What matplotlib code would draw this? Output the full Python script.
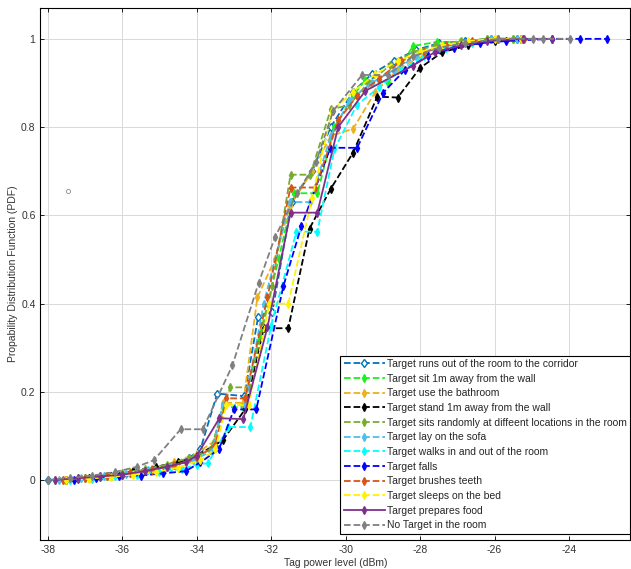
#!/usr/bin/env python3
"""Tag power level CDFs for the different activity scenarios."""

from __future__ import annotations

import matplotlib

matplotlib.use("Agg")

import matplotlib.pyplot as plt

LABELS = [
    "Target runs out of the room to the corridor",
    "Target sit 1m away from the wall",
    "Target use the bathroom",
    "Target stand 1m away from the wall",
    "Target sits randomly at diffeent locations in the room",
    "Target lay on the sofa",
    "Target walks in and out of the room",
    "Target falls",
    "Target brushes teeth",
    "Target sleeps on the bed",
    "Target prepares food",
    "No Target in the room",
]

runs_x = [-38.0, -37.2, -36.6, -36.0, -35.4, -34.8, -34.2, -33.9, -33.45, -32.72, -32.35, -31.97, -31.45,
          -30.9, -30.4, -29.8, -29.3, -28.7, -28.1, -27.5, -26.8, -26.1, -25.4]
runs_y = [0.0, 0.002, 0.006, 0.012, 0.02, 0.03, 0.05, 0.07, 0.196, 0.19, 0.37, 0.38, 0.63,
          0.70, 0.80, 0.88, 0.92, 0.95, 0.975, 0.99, 0.995, 1.0, 1.0]

sit_x = [-37.5, -37.0, -36.4, -35.8, -35.2, -34.6, -34.1, -33.6, -33.3, -32.75, -32.3, -31.8, -31.4,
         -30.76, -30.3, -29.8, -29.47, -28.86, -28.18, -27.54, -26.92, -26.2, -25.5]
sit_y = [0.0, 0.005, 0.01, 0.016, 0.025, 0.035, 0.05, 0.07, 0.165, 0.165, 0.33, 0.5, 0.65,
         0.65, 0.80, 0.87, 0.907, 0.90, 0.984, 0.993, 0.993, 1.0, 1.0]

bath_x = [-37.6, -37.0, -36.4, -35.8, -35.2, -34.6, -34.0, -33.5, -33.3, -32.75, -32.37, -31.9, -31.5,
          -30.9, -30.4, -29.8, -29.2, -28.6, -28.0, -27.4, -26.7, -26.0, -25.3]
bath_y = [0.0, 0.004, 0.01, 0.018, 0.026, 0.04, 0.06, 0.09, 0.175, 0.175, 0.414, 0.5, 0.62,
          0.70, 0.78, 0.796, 0.88, 0.93, 0.96, 0.98, 0.99, 1.0, 1.0]

stand_x = [-37.5, -36.9, -36.3, -35.7, -35.1, -34.5, -34.0, -33.3, -32.7, -32.2, -31.54, -30.97,
           -30.4, -29.8, -29.15, -28.6, -28.0, -27.4, -26.7, -26.0, -25.3]
stand_y = [0.0, 0.005, 0.01, 0.02, 0.03, 0.04, 0.055, 0.09, 0.16, 0.344, 0.344, 0.57,
           0.66, 0.742, 0.869, 0.867, 0.934, 0.97, 0.985, 0.995, 1.0]

randomly_x = [-37.8, -37.2, -36.6, -36.0, -35.4, -34.8, -34.2, -33.63, -33.1, -32.6, -31.97, -31.48,
              -30.95, -30.4, -29.9, -29.4, -28.8, -28.2, -27.6, -26.9, -26.2, -25.5]
randomly_y = [0.0, 0.004, 0.01, 0.016, 0.024, 0.035, 0.05, 0.068, 0.21, 0.21, 0.44, 0.692,
              0.692, 0.84, 0.85, 0.90, 0.94, 0.97, 0.985, 0.995, 1.0, 1.0]

sofa_x = [-37.7, -37.1, -36.5, -35.9, -35.3, -34.7, -34.1, -33.6, -33.3, -32.7, -32.2, -31.5,
          -30.95, -30.4, -29.9, -29.3, -28.7, -28.1, -27.5, -26.8, -26.1, -25.4]
sofa_y = [0.0, 0.004, 0.008, 0.014, 0.022, 0.03, 0.045, 0.065, 0.17, 0.17, 0.40, 0.63,
          0.63, 0.78, 0.86, 0.90, 0.93, 0.96, 0.98, 0.99, 1.0, 1.0]

walks_x = [-37.4, -36.8, -36.2, -35.6, -35.0, -34.4, -34.0, -33.7, -33.15, -32.56, -32.0, -31.32,
           -30.76, -30.3, -29.7, -29.1, -28.5, -27.9, -27.3, -26.6, -25.9, -25.2]
walks_y = [0.0, 0.003, 0.008, 0.012, 0.018, 0.025, 0.035, 0.038, 0.12, 0.12, 0.35, 0.563,
           0.563, 0.75, 0.85, 0.89, 0.93, 0.96, 0.98, 0.99, 1.0, 1.0]

falls_x = [-37.3, -36.7, -36.1, -35.5, -34.9, -34.3, -33.9, -33.4, -33.0, -32.4, -31.67, -31.19,
           -30.41, -29.69, -28.99, -28.4, -27.8, -27.1, -26.4, -25.7, -24.46, -23.7, -22.98]
falls_y = [0.0, 0.005, 0.01, 0.01, 0.015, 0.02, 0.04, 0.07, 0.16, 0.16, 0.44, 0.575,
           0.753, 0.753, 0.878, 0.93, 0.96, 0.98, 0.99, 0.995, 1.0, 1.0, 1.0]

teeth_x = [-37.6, -37.0, -36.4, -35.8, -35.2, -34.6, -34.0, -33.5, -33.2, -32.7, -32.1, -31.48,
           -30.81, -30.2, -29.7, -29.1, -28.5, -27.9, -27.3, -26.6, -25.9, -25.2]
teeth_y = [0.0, 0.004, 0.009, 0.015, 0.023, 0.033, 0.05, 0.08, 0.185, 0.185, 0.414, 0.663,
           0.663, 0.815, 0.87, 0.91, 0.95, 0.97, 0.985, 0.995, 1.0, 1.0]

sleeps_x = [-37.5, -36.9, -36.3, -35.7, -35.1, -34.5, -33.9, -33.5, -33.2, -32.6, -32.05, -31.54,
            -30.9, -30.36, -29.8, -29.2, -28.6, -28.0, -27.4, -26.7, -26.0, -25.3]
sleeps_y = [0.0, 0.003, 0.007, 0.012, 0.018, 0.028, 0.045, 0.07, 0.17, 0.17, 0.40, 0.40,
            0.64, 0.837, 0.88, 0.92, 0.95, 0.97, 0.985, 0.995, 1.0, 1.0]

food_x = [-37.8, -37.2, -36.6, -36.0, -35.4, -34.8, -34.3, -34.0, -33.39, -32.75, -32.1, -31.48,
          -30.76, -30.2, -29.47, -28.2, -27.6, -26.9, -26.2, -25.24, -24.46]
food_y = [0.0, 0.004, 0.008, 0.012, 0.02, 0.03, 0.04, 0.055, 0.14, 0.138, 0.346, 0.606,
          0.606, 0.80, 0.882, 0.939, 0.97, 0.985, 0.995, 1.0, 1.0]

empty_x = [-38.0, -37.4, -36.8, -36.2, -35.6, -35.15, -34.43, -33.84, -33.04, -32.34, -31.9, -31.3,
           -30.8, -30.33, -29.56, -28.86, -28.2, -27.5, -26.8, -25.9, -24.97, -24.7, -23.97]
empty_y = [0.0, 0.005, 0.01, 0.018, 0.03, 0.045, 0.115, 0.115, 0.26, 0.446, 0.55, 0.65,
           0.72, 0.837, 0.918, 0.918, 0.96, 0.98, 0.99, 1.0, 1.0, 1.0, 1.0]

# lone stray marker near the left edge
stray_x = [-37.46]
stray_y = [0.656]

SERIES = [
    (runs_x, runs_y), (sit_x, sit_y), (bath_x, bath_y), (stand_x, stand_y),
    (randomly_x, randomly_y), (sofa_x, sofa_y), (walks_x, walks_y), (falls_x, falls_y),
    (teeth_x, teeth_y), (sleeps_x, sleeps_y), (food_x, food_y), (empty_x, empty_y),
]

COLORS = [
    (0.0, 0.447, 0.741),
    (0.1, 0.95, 0.1),
    (0.929, 0.694, 0.125),
    (0.0, 0.0, 0.0),
    (0.466, 0.674, 0.188),
    (0.301, 0.745, 0.933),
    (0.0, 1.0, 1.0),
    (0.0, 0.0, 1.0),
    (0.85, 0.325, 0.098),
    (1.0, 0.95, 0.0),
    (0.494, 0.184, 0.556),
    (0.5, 0.5, 0.5),
]

XTICKS = [-38, -36, -34, -32, -30, -28, -26, -24]
YTICKS = [0, 0.2, 0.4, 0.6, 0.8, 1]
YTICK_LABELS = ["0", "0.2", "0.4", "0.6", "0.8", "1"]


def main() -> None:
    plt.rcParams["font.family"] = ["Liberation Sans", "DejaVu Sans"]
    fig = plt.figure(figsize=(6.31, 5.69), dpi=100)
    ax = fig.add_axes([0.064, 0.051, 0.935, 0.935])

    for i, ((xs, ys), color, label) in enumerate(zip(SERIES, COLORS, LABELS)):
        style = "-" if label == "Target prepares food" else "--"
        face = "white" if i == 0 else color
        ax.plot(xs, ys, style, color=color, lw=1.3, marker="d", ms=4.5 if i == 0 else 4,
                mfc=face, mec=color, mew=1.0, label=label)

    ax.plot(stray_x, stray_y, "o", color=(0.55, 0.55, 0.55), ms=3, mfc="none", mew=0.6)

    ax.set_xlim(-38.2, -22.35)
    ax.set_ylim(-0.136, 1.07)
    ax.set_xticks(XTICKS)
    ax.set_xticklabels([str(t) for t in XTICKS])
    ax.set_yticks(YTICKS)
    ax.set_yticklabels(YTICK_LABELS)
    ax.tick_params(direction="in", labelsize=7.5, length=3, width=0.6, top=True, right=True,
                   labelcolor=(0.2, 0.2, 0.2))
    ax.grid(True, color=(0.85, 0.85, 0.85), lw=0.7)
    ax.set_axisbelow(True)
    for spine in ax.spines.values():
        spine.set_linewidth(0.8)

    ax.set_xlabel("Tag power level (dBm)", fontsize=7.5, labelpad=2, color=(0.2, 0.2, 0.2))
    ax.set_ylabel("Propability Distribution Function (PDF)", fontsize=7.5, labelpad=2,
                  color=(0.2, 0.2, 0.2))

    leg = ax.legend(loc="lower right", bbox_to_anchor=(1.0, 0.012), fontsize=7.5, handlelength=4.0,
                    numpoints=1, fancybox=False, framealpha=1.0, edgecolor="black",
                    borderpad=0.3, labelspacing=0.45, handletextpad=0.2, borderaxespad=0.0)
    leg.get_frame().set_linewidth(0.8)
    for text in leg.get_texts():
        text.set_color((0.15, 0.15, 0.15))

    fig.savefig("out.png", dpi=100, facecolor="white")


if __name__ == "__main__":
    main()
